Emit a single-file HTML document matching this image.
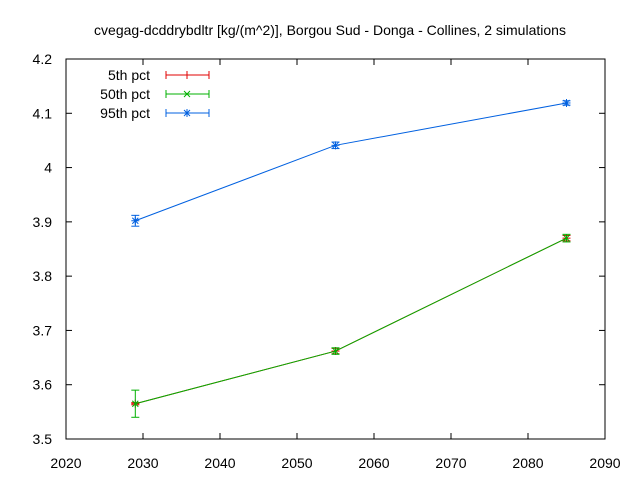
<!DOCTYPE html>
<html><head><meta charset="utf-8"><style>
body{margin:0;background:#fff}
svg text{font-family:"Liberation Sans",sans-serif;font-size:14px;fill:#000}
</style></head><body>
<svg id="chart" width="640" height="480">
<text x="330" y="35" text-anchor="middle">cvegag-dcddrybdltr [kg/(m^2)], Borgou Sud - Donga - Collines, 2 simulations</text>
<rect x="66" y="59" width="539" height="380" fill="none" stroke="#000"/>
<g id="axes"></g><g id="series"></g><g id="legend"></g>
</svg>
<script>
const years=[2029,2055,2085];
const p5=[3.565,3.662,3.870];
const p5lo=[3.563,3.657,3.865];
const p5hi=[3.567,3.667,3.875];
const p50=[3.565,3.662,3.870];
const p50lo=[3.540,3.656,3.863];
const p50hi=[3.590,3.668,3.877];
const p95=[3.902,4.041,4.119];
const p95lo=[3.892,4.035,4.115];
const p95hi=[3.912,4.047,4.123];
const xTicks=[2020,2030,2040,2050,2060,2070,2080,2090];
const yTicks=[3.5,3.6,3.7,3.8,3.9,4,4.1,4.2];
const X=v=>66+(v-2020)/70*539;
const Y=v=>439-(v-3.5)/0.7*380;
const NS="http://www.w3.org/2000/svg";
function mk(p,t,a){const e=document.createElementNS(NS,t);for(const k in a)e.setAttribute(k,a[k]);p.appendChild(e);return e;}
const ax=document.getElementById('axes');
xTicks.forEach(v=>{
 const l=mk(ax,'line',{x1:X(v),x2:X(v),y1:439,y2:433,stroke:'#000'});
 
 
 const l2=mk(ax,'line',{x1:X(v),x2:X(v),y1:59,y2:65,stroke:'#000'});
 
 
 const t=mk(ax,'text',{x:X(v),y:468,'text-anchor':'middle'});t.textContent=v;
 
 
});
yTicks.forEach(v=>{
 const l=mk(ax,'line',{x1:66,x2:72,y1:Y(v),y2:Y(v),stroke:'#000'});
 
 
 const l2=mk(ax,'line',{x1:605,x2:599,y1:Y(v),y2:Y(v),stroke:'#000'});
 
 
 const t=mk(ax,'text',{x:52,y:Y(v)+5,'text-anchor':'end'});t.textContent=v;
 
 
});
const sg=document.getElementById('series');
function marker(g,x,y,type,c){
 if(type!=='x'){mk(g,'line',{x1:x-4,x2:x+4,y1:y,y2:y,stroke:c});}
 if(type==='plus'||type==='star'){mk(g,'line',{x1:x,x2:x,y1:y-4,y2:y+4,stroke:c});}
 if(type==='x'||type==='star'){mk(g,'line',{x1:x-3,x2:x+3,y1:y-3,y2:y+3,stroke:c});mk(g,'line',{x1:x-3,x2:x+3,y1:y+3,y2:y-3,stroke:c});}
}
function series(name,vals,lo,hi,c,type){
 const g=mk(sg,'g',{});
 
 
 mk(g,'polyline',{points:years.map((y,i)=>X(y)+','+Y(vals[i])).join(' '),fill:'none',stroke:c});
 years.forEach((y,i)=>{const x=X(y);
  mk(g,'line',{x1:x,x2:x,y1:Y(lo[i]),y2:Y(hi[i]),stroke:c});
  mk(g,'line',{x1:x-4,x2:x+4,y1:Y(lo[i]),y2:Y(lo[i]),stroke:c});
  mk(g,'line',{x1:x-4,x2:x+4,y1:Y(hi[i]),y2:Y(hi[i]),stroke:c});
  marker(g,x,Y(vals[i]),type,c);});
}
series('series-5th',p5,p5lo,p5hi,'#e00000','plus');
series('series-50th',p50,p50lo,p50hi,'#00b000','x');
series('series-95th',p95,p95lo,p95hi,'#0060e0','star');
const lg=document.getElementById('legend');
[['5th pct','#e00000','plus'],['50th pct','#00b000','x'],['95th pct','#0060e0','star']].forEach((d,i)=>{
 const y=75+i*19;
 const g=mk(lg,'g',{});
 
 
 const t=mk(g,'text',{x:150,y:y+5,'text-anchor':'end'});t.textContent=d[0];
 mk(g,'line',{x1:166,x2:209,y1:y,y2:y,stroke:d[1]});
 mk(g,'line',{x1:166,x2:166,y1:y-4,y2:y+4,stroke:d[1]});
 mk(g,'line',{x1:209,x2:209,y1:y-4,y2:y+4,stroke:d[1]});
 marker(g,187,y,d[2],d[1]);
});
</script>
</body></html>
